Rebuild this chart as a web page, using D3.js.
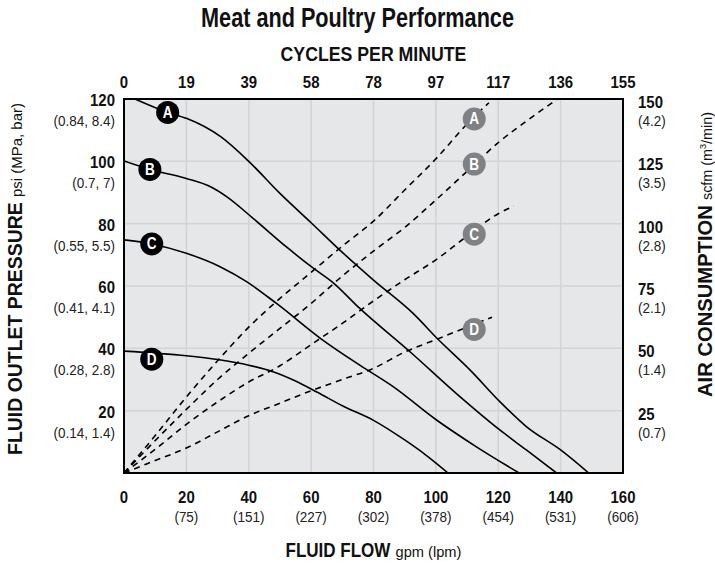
<!DOCTYPE html>
<html><head><meta charset="utf-8">
<script src="https://cdn.jsdelivr.net/npm/d3@7"></script>
<style>
html,body{margin:0;padding:0;background:#fff;}
svg text{font-family:"Liberation Sans",Arial,sans-serif;}
</style></head>
<body><svg id="c" width="715" height="563"></svg>
<script>
// ---- data ----
const flowTicks = [0,20,40,60,80,100,120,140,160];            // gpm
const flowLpm   = ["","(75)","(151)","(227)","(302)","(378)","(454)","(531)","(606)"];
const cycleLabels = ["0","19","39","58","78","97","117","136","155"];
const psiTicks = [20,40,60,80,100,120];
const psiMetric = ["(0.14, 1.4)","(0.28, 2.8)","(0.41, 4.1)","(0.55, 5.5)","(0.7, 7)","(0.84, 8.4)"];
const scfmTicks = [25,50,75,100,125,150];
const scfmMetric = ["(0.7)","(1.4)","(2.1)","(2.8)","(3.5)","(4.2)"];

// fluid pressure curves [gpm, psi]
const pressA = [[3.5,120],[14,115.7],[20,113.8],[31,107.9],[40,100],[50,89.7],[60,80.3],[70,70.8],[80,61.9],[92.7,51.2],[100.7,42.9],[111,33],[120.5,22.9],[129,14.9],[140,7.4],[149,0]];
const pressB = [[0,100.1],[8.3,97.4],[20,94.5],[27.6,91.9],[33,88.6],[41.4,81.7],[52,72.6],[60.7,65.7],[67,61.1],[75.6,52.8],[91.7,38.9],[107.7,24.5],[120.5,13.8],[129,7.4],[138.7,0]];
const pressC = [[0,74.8],[8.9,73.5],[20,70.5],[30.8,66.2],[39.3,61.4],[48.9,54.4],[63.4,42.9],[75.6,34.6],[86.3,27.7],[100.2,17],[113,8.4],[126.7,0]];
const pressD = [[0,39.1],[20,37.6],[30,36.4],[40,34.6],[48,32.4],[55,29.5],[62,25.9],[70,21.6],[80,16.9],[90,10.6],[97,5.6],[103.9,0]];

// air consumption curves [gpm, scfm]
const airA = [[0,0],[10,15],[20,30.5],[30,45],[40,58.5],[50,70],[60,80.5],[70,91],[80,101],[90,113.5],[100,126],[110,140],[117,148.5]];
const airB = [[0,0],[10,13],[20,25.5],[30,37.5],[40,48],[50,58],[60,68],[70,79],[80,89],[90,98.5],[100,109.5],[110,121],[120,132.5],[130,142],[139,150]];
const airC = [[0,0],[10,9.5],[20,19.5],[30,28.5],[40,36.5],[50,43],[60,51.5],[70,60],[80,69],[90,77.5],[100,85.5],[110,95],[120,104],[125,107]];
const airD = [[0,0],[10,5],[20,10],[30,16.5],[40,23],[50,28],[60,33],[70,37.5],[80,42],[90,48.5],[100,53.5],[110,58.5],[118,62.5]];

const curveNames = ["A","B","C","D"];
const pressLabelPos = [[14,115.7],[8.3,97.4],[8.9,73.5],[8.9,36.5]];   // [gpm, psi]
const airLabelPos = [[112.3,142],[112.3,123.9],[112.3,95.8],[112.3,57.6]]; // [gpm, scfm]

// ---- chart ----
const svg = d3.select("#c");
const L=124, R=623, T=99, B=473;
const x = d3.scaleLinear().domain([0,160]).range([L,R]);
const y = d3.scaleLinear().domain([0,120]).range([B,T]);
const yR = d3.scaleLinear().domain([0,150]).range([B,T]);

// condensed text helper: places text at (tx,ty) and scales horizontally
function ctext(parent, str, tx, ty, o){
  const g = parent.append("g").attr("transform",`translate(${tx},${ty})`);
  const t = g.append("text").attr("x",0).attr("y",0)
    .attr("font-size",o.size).attr("font-weight",o.weight||"normal")
    .attr("fill",o.fill||"#111").attr("text-anchor",o.anchor||"start").text(str);
  const w = t.node().getComputedTextLength();
  const s = o.width ? o.width/w : (o.sx||1);
  t.attr("transform",`scale(${s},1)`);
  return w*s;
}

svg.append("rect").attr("x",L).attr("y",T).attr("width",R-L).attr("height",B-T).attr("fill","#e6e7e9");

const g = svg.append("g");
g.selectAll(".vg").data(flowTicks.slice(1,-1)).join("line")
  .attr("x1",d=>x(d)).attr("x2",d=>x(d)).attr("y1",T).attr("y2",B)
  .attr("stroke","#d2d3d5").attr("stroke-width",1.5);
g.selectAll(".hg").data(psiTicks.slice(0,-1)).join("line")
  .attr("y1",d=>y(d)).attr("y2",d=>y(d)).attr("x1",L).attr("x2",R)
  .attr("stroke","#d2d3d5").attr("stroke-width",1.5);

svg.append("clipPath").attr("id","pc").append("rect")
  .attr("x",L).attr("y",T).attr("width",R-L).attr("height",B-T);

const lineP = d3.line().x(d=>x(d[0])).y(d=>y(d[1])).curve(d3.curveMonotoneX);
const lineA = d3.line().x(d=>x(d[0])).y(d=>yR(d[1])).curve(d3.curveMonotoneX);

const cg = svg.append("g").attr("clip-path","url(#pc)");
[airA,airB,airC,airD].forEach(d=>{
  cg.append("path").attr("d",lineA(d)).attr("fill","none").attr("stroke","#000")
    .attr("stroke-width",1.6).attr("stroke-dasharray","6,5");
});
[pressA,pressB,pressC,pressD].forEach(d=>{
  cg.append("path").attr("d",lineP(d)).attr("fill","none").attr("stroke","#000").attr("stroke-width",1.6);
});

svg.append("rect").attr("x",L).attr("y",T).attr("width",R-L).attr("height",B-T)
  .attr("fill","none").attr("stroke","#000").attr("stroke-width",2);

// markers
function marker(cx,cy,fill,txt){
  svg.append("circle").attr("cx",cx).attr("cy",cy).attr("r",11.5).attr("fill",fill);
  ctext(svg, txt, cx, cy+5.5, {size:16, weight:"bold", fill:"#fff", anchor:"middle", sx:0.85});
}
pressLabelPos.forEach((p,i)=>marker(x(p[0]),y(p[1]),"#000",curveNames[i]));
airLabelPos.forEach((p,i)=>marker(x(p[0]),yR(p[1]),"#808184",curveNames[i]));

const NUM = {size:17, weight:"bold", fill:"#111", sx:0.88};
const SUB = {size:15, fill:"#222", sx:0.9};

// bottom axis labels
flowTicks.forEach((v,i)=>{
  ctext(svg, String(v), x(v), 503, Object.assign({anchor:"middle"},NUM));
  if(flowLpm[i]) ctext(svg, flowLpm[i], x(v), 522, Object.assign({anchor:"middle"},SUB));
});
// top axis labels
flowTicks.forEach((v,i)=>{
  ctext(svg, cycleLabels[i], x(v), 88, Object.assign({anchor:"middle"},NUM));
});
// left
psiTicks.forEach((v,i)=>{
  ctext(svg, String(v), 115, y(v)+7, Object.assign({anchor:"end"},NUM));
  ctext(svg, psiMetric[i], 115, y(v)+27, Object.assign({anchor:"end"},SUB));
});
// right
scfmTicks.forEach((v,i)=>{
  ctext(svg, String(v), 638, yR(v)+9, Object.assign({anchor:"start"},NUM));
  ctext(svg, scfmMetric[i], 638, yR(v)+27, Object.assign({anchor:"start"},SUB));
});

// titles
ctext(svg, "Meat and Poultry Performance", 357.5, 27, {size:27, weight:"bold", anchor:"middle", width:313});
ctext(svg, "CYCLES PER MINUTE", (L+R)/2, 61, {size:20, weight:"bold", anchor:"middle", width:186});

// bottom title
{
  const w1=105, gap=5, w2=66, tot=w1+gap+w2;
  const x0=(L+R)/2 - tot/2;
  ctext(svg, "FLUID FLOW", x0, 557, {size:20, weight:"bold", width:w1});
  ctext(svg, "gpm (lpm)", x0+w1+gap, 557, {size:14, width:w2});
}
// left title (rotated)
{
  const lg = svg.append("g").attr("transform","translate(22,455) rotate(-90)");
  ctext(lg, "FLUID OUTLET PRESSURE", 0, 0, {size:20, weight:"bold", width:253});
  ctext(lg, "psi (MPa, bar)", 258, 0, {size:14, width:94});
}
// right title (rotated)
{
  const rg = svg.append("g").attr("transform","translate(712,397) rotate(-90)");
  ctext(rg, "AIR CONSUMPTION", 0, 0, {size:20, weight:"bold", width:192});
  const t = rg.append("g").attr("transform","translate(197,0)");
  const tx = t.append("text").attr("font-size",14).attr("fill","#111");
  tx.append("tspan").text("scfm (m");
  tx.append("tspan").attr("font-size",9).attr("dy",-6).text("3");
  tx.append("tspan").attr("font-size",14).attr("dy",6).text("/min)");
  const w = tx.node().getComputedTextLength();
  tx.attr("transform",`scale(${88/w},1)`);
}
</script></body></html>
